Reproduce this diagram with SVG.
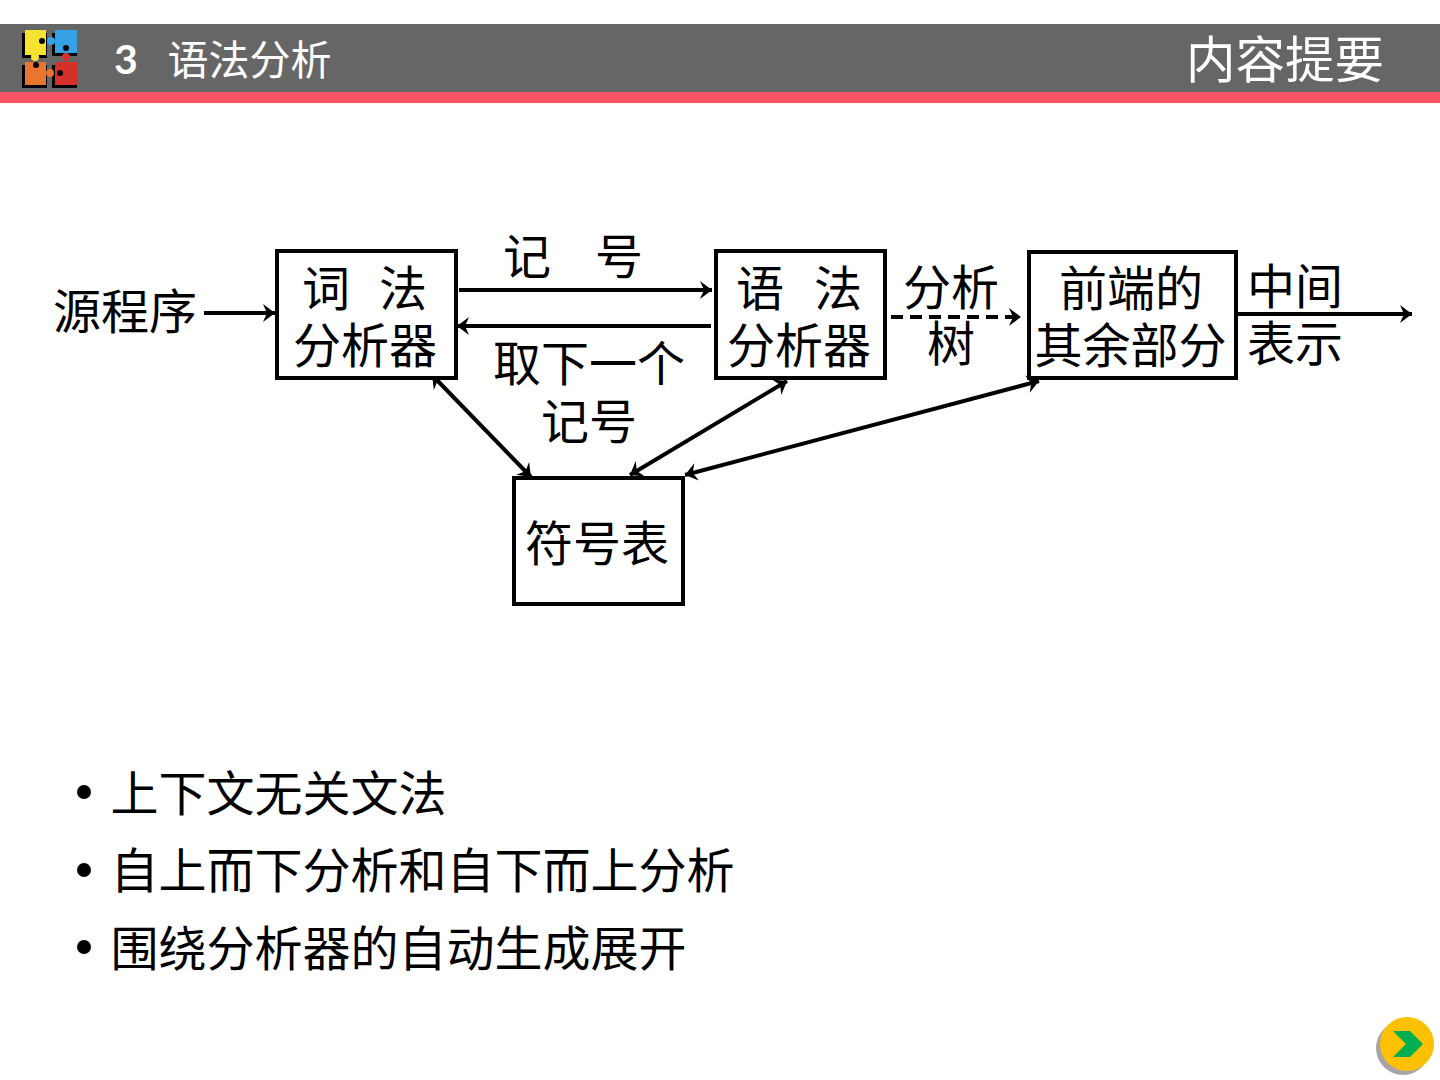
<svg xmlns="http://www.w3.org/2000/svg" width="1440" height="1080" viewBox="0 0 1440 1080">
<defs>
<style>
text{font-family:"Noto Sans CJK SC","Liberation Sans",sans-serif;fill:#000;font-size:48px}
.box{fill:#fff;stroke:#000;stroke-width:4}
.c{fill:none;stroke:#000;stroke-width:4}
.m{text-anchor:middle}
</style>
<marker id="a" markerUnits="userSpaceOnUse" markerWidth="16" markerHeight="20" refX="13" refY="10" orient="auto-start-reverse"><path d="M1 1L13 10L1 19L5 10Z" fill="#000"/></marker>
</defs>
<rect width="1440" height="1080" fill="#fff"/>
<g id="header">
<rect x="0" y="24" width="1440" height="68" fill="#666"/>
<rect x="0" y="92" width="1440" height="11" fill="#fb5464"/>
<g id="logo">
<rect x="22" y="33" width="25" height="25" fill="#000"/>
<rect x="52" y="33" width="25" height="23" fill="#000"/>
<rect x="22" y="65" width="25" height="23" fill="#000"/>
<rect x="52" y="65" width="25" height="23" fill="#000"/>
<rect x="25" y="30" width="21" height="25" fill="#f7e22f"/>
<rect x="55" y="30" width="22" height="23" fill="#36a2e6"/>
<rect x="25" y="62" width="21" height="23" fill="#e9752f"/>
<rect x="55" y="62" width="22" height="23" fill="#d5302c"/>
<circle cx="35" cy="57" r="4" fill="#f7e22f"/>
<circle cx="51" cy="41" r="4" fill="#36a2e6"/>
<circle cx="50" cy="73" r="4" fill="#e9752f"/>
<circle cx="66" cy="57" r="4" fill="#d5302c"/>
<circle cx="42" cy="41" r="3" fill="#000"/><circle cx="66" cy="48" r="3" fill="#000"/><circle cx="36" cy="65" r="3" fill="#000"/><circle cx="60" cy="73" r="3" fill="#000"/>
</g>
<text x="114" y="74" style="font-family:Lato,'Liberation Sans',sans-serif;font-weight:700;font-size:41px;fill:#fff">3</text>
<text x="167.500" y="75" style="font-size:41px;fill:#fff">语法分析</text>
<text x="1186" y="78" style="font-size:49.500px;fill:#fff">内容提要</text>
</g>
<g id="connectors">
<path class="c" d="M204 313H275" marker-end="url(#a)"/>
<path class="c" d="M459 290H712" marker-end="url(#a)"/>
<path class="c" d="M711 326H457" marker-end="url(#a)"/>
<path class="c" d="M891 317H1021" stroke-dasharray="12 7" marker-end="url(#a)"/>
<path class="c" d="M1237 314H1412" marker-end="url(#a)"/>
<path class="c" d="M432 375L531 477" marker-start="url(#a)" marker-end="url(#a)"/>
<path class="c" d="M787 381L630 475" marker-start="url(#a)" marker-end="url(#a)"/>
<path class="c" d="M1039 381L685 475" marker-start="url(#a)" marker-end="url(#a)"/>
</g>
<g id="lexer"><rect class="box" x="277" y="251" width="179" height="127"/>
<text x="302" y="306">词</text><text x="379" y="306">法</text><text class="m" x="365" y="363">分析器</text></g>
<g id="parser"><rect class="box" x="716" y="251" width="169" height="127"/>
<text x="736" y="306">语</text><text x="814" y="306">法</text><text class="m" x="799" y="363">分析器</text></g>
<g id="rest"><rect class="box" x="1029" y="252" width="207" height="126"/>
<text class="m" x="1131" y="306">前端的</text><text class="m" x="1130.500" y="363">其余部分</text></g>
<g id="symtab"><rect class="box" x="514" y="478" width="169" height="126"/>
<text class="m" x="597" y="561">符号表</text></g>
<g id="labels">
<text x="53" y="329">源程序</text>
<text x="503" y="274">记</text><text x="595" y="274">号</text>
<text class="m" x="589" y="381">取下一个</text>
<text class="m" x="589" y="439">记号</text>
<text class="m" x="951" y="305">分析</text>
<text class="m" x="951" y="361">树</text>
<text class="m" x="1295" y="304">中间</text>
<text class="m" x="1295" y="361">表示</text>
</g>
<g id="bullets">
<circle cx="84" cy="792" r="7" fill="#000"/><text x="110.500" y="811">上下文无关文法</text>
<circle cx="84" cy="870" r="7" fill="#000"/><text x="110.500" y="888">自上而下分析和自下而上分析</text>
<circle cx="84" cy="947" r="7" fill="#000"/><text x="110.500" y="966">围绕分析器的自动生成展开</text>
</g>
<g id="next">
<circle cx="1403" cy="1048" r="27" fill="#a6a6a6"/>
<circle cx="1407" cy="1044" r="27" fill="#ffc000"/>
<path d="M1393 1031H1410L1423 1044L1410 1057H1393L1406 1044Z" fill="#00b050"/>
</g>
</svg>
